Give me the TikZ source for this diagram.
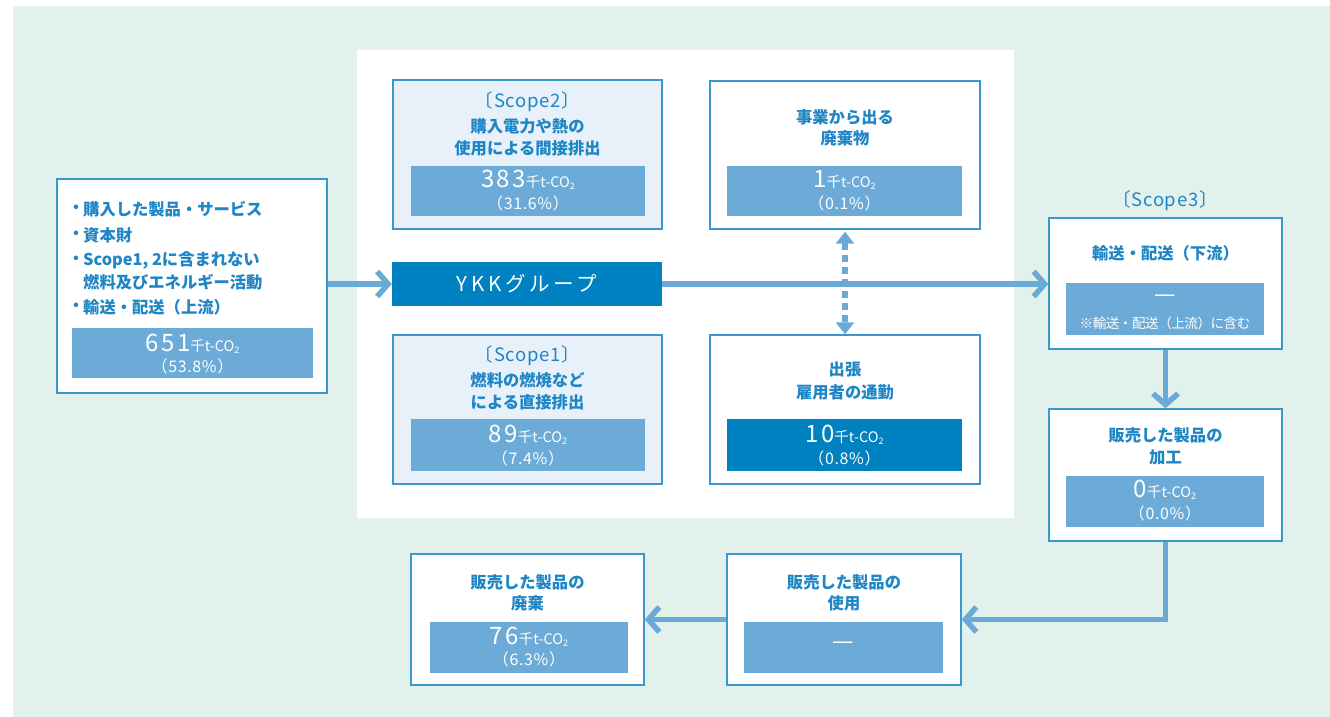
\documentclass[tikz,border=0pt]{standalone}
\usepackage{fontspec}
\setmainfont{Noto Sans CJK JP}
\usetikzlibrary{arrows.meta}
\definecolor{bggreen}{HTML}{E3F1EC}
\definecolor{bordc}{HTML}{3A98CF}
\definecolor{lightbox}{HTML}{E8F1FA}
\definecolor{barc}{HTML}{6CABD7}
\definecolor{darkbar}{HTML}{0081C1}
\definecolor{txtblue}{HTML}{1F86C6}
\definecolor{arrc}{HTML}{6AAAD6}
\newcommand{\myunit}{{\fontsize{14.5}{14.5}\selectfont 千t-CO\raisebox{-0.12em}{\fontsize{9}{9}\selectfont 2}}}
\newcommand{\mynum}[1]{{\fontsize{24}{24}\selectfont\addfontfeatures{LetterSpace=10}#1}}
\tikzset{
  boxnode/.style={draw=bordc, line width=1.4pt, fill=white, inner sep=0pt},
  barnode/.style={fill=barc, draw=none, inner sep=0pt},
  titletext/.style={text=txtblue, font=\bfseries\fontsize{16.3}{22.5}\selectfont, inner sep=0pt},
  scopetext/.style={text=txtblue, font=\fontsize{18.5}{18.5}\selectfont\addfontfeatures{LetterSpace=4}, inner sep=0pt},
  numtext/.style={text=white, inner sep=0pt},
  pcttext/.style={text=white, font=\fontsize{16}{16}\selectfont\addfontfeatures{LetterSpace=4}, inner sep=0pt},
  flow/.style={draw=arrc, line width=5.5pt, -{Straight Barb[length=11pt,width=25pt]}},
  dasharrow/.style={draw=arrc, line width=5.5pt, dash pattern=on 7pt off 5pt, {Triangle[length=12pt,width=18pt]}-{Triangle[length=12pt,width=18pt]}}
}
\begin{document}
\begin{tikzpicture}[x=1pt,y=-1pt]
\useasboundingbox (0,0) rectangle (1330,717);
\fill[bggreen] (13,6) rectangle (1330,717);
\fill[white] (357,50) rectangle (1014,518);

% boxes
\node[boxnode, minimum width=270pt, minimum height=214pt] (b1) at (192,286) {};
\node[boxnode, fill=lightbox, minimum width=269pt, minimum height=149pt] (s2) at (527.5,154.5) {};
\node[boxnode, minimum width=270pt, minimum height=148pt] (w) at (845,155) {};
\node[boxnode, fill=lightbox, minimum width=269pt, minimum height=149pt] (s1) at (527.5,409.5) {};
\node[boxnode, minimum width=270pt, minimum height=149pt] (t) at (845,409.5) {};
\node[fill=darkbar, inner sep=0pt, minimum width=270pt, minimum height=44pt] (ykk) at (527,284) {};
\node[text=white, font=\fontsize{20.5}{20.5}\selectfont\addfontfeatures{LetterSpace=18}, inner sep=0pt] (ykkt) at (527,284) {YKKグループ};
\node[boxnode, minimum width=233pt, minimum height=131pt] (s3a) at (1165.5,283.5) {};
\node[boxnode, minimum width=233pt, minimum height=132pt] (s3b) at (1165.5,475) {};
\node[boxnode, minimum width=233pt, minimum height=131pt] (dsp) at (527.5,619.5) {};
\node[boxnode, minimum width=234pt, minimum height=131pt] (use) at (844,619.5) {};

% bars
\node[barnode, minimum width=241pt, minimum height=50pt] (b1bar) at (192.5,353) {};
\node[barnode, minimum width=234pt, minimum height=50pt] (s2bar) at (528,191) {};
\node[barnode, minimum width=235pt, minimum height=50pt] (wbar) at (844.5,191) {};
\node[barnode, minimum width=234pt, minimum height=52pt] (s1bar) at (528,445) {};
\node[barnode, fill=darkbar, minimum width=235pt, minimum height=52pt] (tbar) at (844.5,445) {};
\node[barnode, minimum width=198pt, minimum height=52pt] (s3abar) at (1165,309) {};
\node[barnode, minimum width=198pt, minimum height=51pt] (s3bbar) at (1165,501.5) {};
\node[barnode, minimum width=198pt, minimum height=51pt] (dspbar) at (529,647.5) {};
\node[barnode, minimum width=199pt, minimum height=51pt] (usebar) at (843.5,647.5) {};

% left box text
\node[titletext] (bu1) at (76,209) {・};
\node[titletext, anchor=west] (l1) at (83,209) {購入した製品・サービス};
\node[titletext] (bu2) at (76,235) {・};
\node[titletext, anchor=west] (l2) at (83,235) {資本財};
\node[titletext] (bu3) at (76,260) {・};
\node[titletext, anchor=west] (l3) at (83,260) {Scope1, 2に含まれない};
\node[titletext, anchor=west] (l4) at (83,282) {燃料及びエネルギー活動};
\node[titletext] (bu5) at (76,307) {・};
\node[titletext, anchor=west] (l5) at (83,307) {輸送・配送（上流）};
\node[numtext] (n1) at (192.5,344) {\mynum{651}\myunit};
\node[pcttext] (p1) at (192.5,366) {（53.8\%）};

% scope2
\node[scopetext] (s2a) at (527.5,102) {〔Scope2〕};
\node[titletext] (s2b) at (527.5,126) {購入電力や熱の};
\node[titletext] (s2c) at (527.5,148) {使用による間接排出};
\node[numtext] (n2) at (528,180) {\mynum{383}\myunit};
\node[pcttext] (p2) at (528,203) {（31.6\%）};

% waste
\node[titletext] (wa) at (845,117) {事業から出る};
\node[titletext] (wb) at (845,138) {廃棄物};
\node[numtext] (n3) at (844.5,180) {\mynum{1}\myunit};
\node[pcttext] (p3) at (844.5,203) {（0.1\%）};

% scope1
\node[scopetext] (s1a) at (527.5,356) {〔Scope1〕};
\node[titletext] (s1b) at (527.5,380) {燃料の燃焼など};
\node[titletext] (s1c) at (527.5,402) {による直接排出};
\node[numtext] (n4) at (528,435) {\mynum{89}\myunit};
\node[pcttext] (p4) at (528,458) {（7.4\%）};

% travel
\node[titletext] (ta) at (845,369) {出張};
\node[titletext] (tb) at (845,392) {雇用者の通勤};
\node[numtext] (n5) at (844.5,435) {\mynum{10}\myunit};
\node[pcttext] (p5) at (844.5,458) {（0.8\%）};

% scope3
\node[scopetext] (s3lab) at (1165,201) {〔Scope3〕};
\node[titletext] (s3at) at (1165.5,253) {輸送・配送（下流）};
\node[numtext, font=\fontsize{24}{24}\selectfont] (d1) at (1165,299) {—};
\node[numtext, font=\fontsize{13.5}{13.5}\selectfont\addfontfeatures{LetterSpace=-3}] (note) at (1165,323) {※輸送・配送（上流）に含む};

\node[titletext] (s3ba) at (1165.5,435) {販売した製品の};
\node[titletext] (s3bb) at (1165.5,457) {加工};
\node[numtext] (n6) at (1165,490) {\mynum{0}\myunit};
\node[pcttext] (p6) at (1165,513) {（0.0\%）};

\node[titletext] (dspa) at (527.5,582) {販売した製品の};
\node[titletext] (dspb) at (527.5,603) {廃棄};
\node[numtext] (n7) at (529,637) {\mynum{76}\myunit};
\node[pcttext] (p7) at (529,659) {（6.3\%）};

\node[titletext] (usea) at (844,582) {販売した製品の};
\node[titletext] (useb) at (844,603) {使用};
\node[numtext, font=\fontsize{24}{24}\selectfont] (d2) at (843.5,646) {—};

% connectors
\draw[flow] (b1.east |- ykk.west) -- (ykk.west);
\draw[flow] (ykk.east) -- (ykk.east -| s3a.west);
\draw[flow] (s3a.south) -- (s3b.north);
\draw[flow] (s3b.south) |- (use.east);
\draw[flow] (use.west) -- (dsp.east);
\draw[dasharrow, shorten <=2pt] (w.south) -- (t.north);
\end{tikzpicture}
\end{document}
